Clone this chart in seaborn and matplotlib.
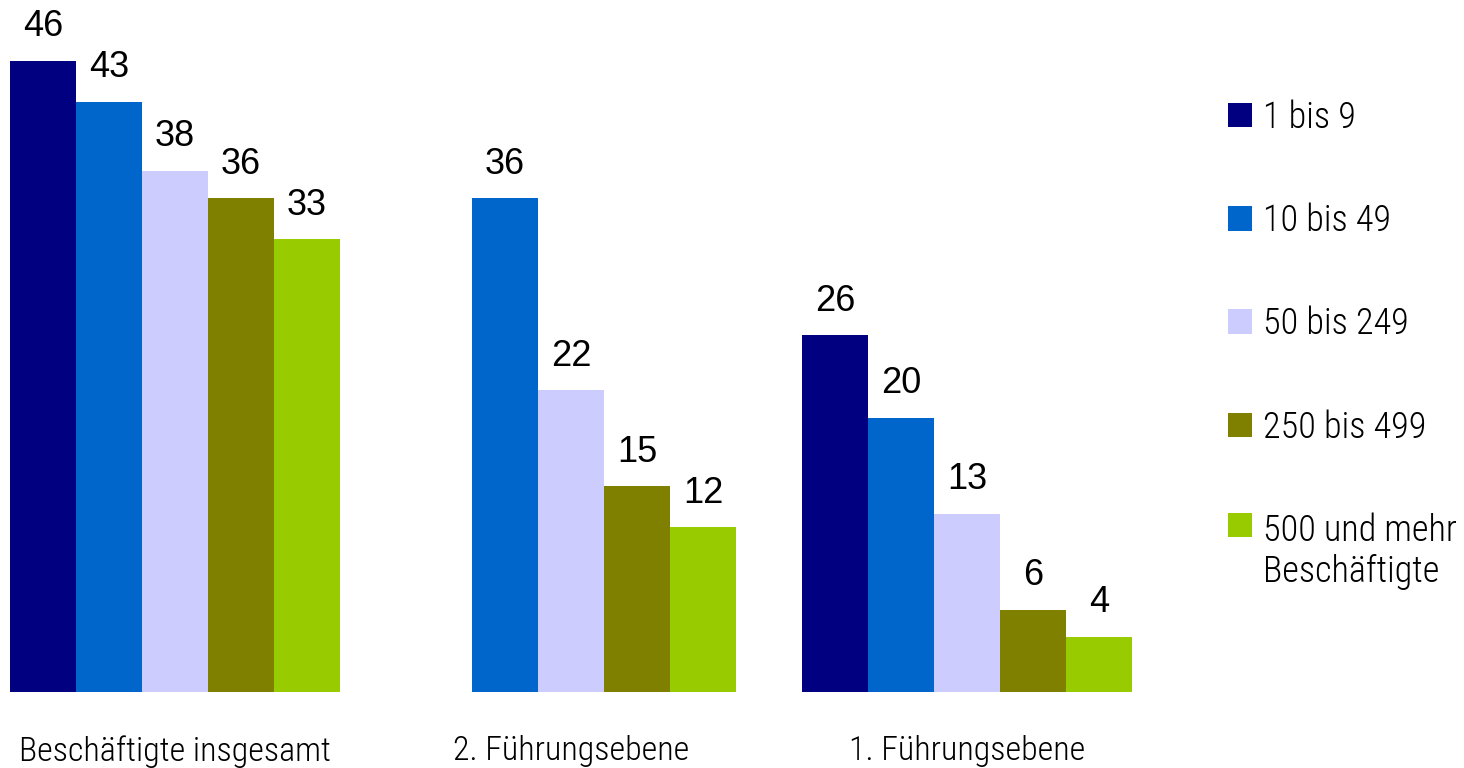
import numpy as np
import pandas as pd
import matplotlib
matplotlib.use("Agg")
import matplotlib.pyplot as plt
from matplotlib import font_manager as fm
import seaborn as sns

categories = ["Beschäftigte insgesamt", "2. Führungsebene", "1. Führungsebene"]
groups = ["1 bis 9", "10 bis 49", "50 bis 249", "250 bis 499", "500 und mehr\nBeschäftigte"]
v_1_9 = [46, np.nan, 26]
v_10_49 = [43, 36, 20]
v_50_249 = [38, 22, 13]
v_250_499 = [36, 15, 6]
v_500 = [33, 12, 4]
colors = ["#000080", "#0066CC", "#CCCCFF", "#808000", "#99CC00"]

series = [v_1_9, v_10_49, v_50_249, v_250_499, v_500]
rows = []
for g, vals in zip(groups, series):
    for c, v in zip(categories, vals):
        rows.append({"Kategorie": c, "Größe": g, "Wert": v})
df = pd.DataFrame(rows).dropna()

# pick a narrow font if one is installed
names = {f.name for f in fm.fontManager.ttflist}
narrow_family = None
narrow_stretch = "normal"
for cand in ["Liberation Sans Narrow", "Arial Narrow", "Roboto Condensed", "Open Sans Condensed"]:
    if cand in names:
        narrow_family = cand
        break
if narrow_family is None:
    for f in fm.fontManager.ttflist:
        if f.name == "DejaVu Sans" and "Condensed" in f.fname:
            narrow_family = "DejaVu Sans"
            narrow_stretch = "condensed"
            break
if narrow_family is None:
    narrow_family = "Liberation Sans"

sns.set_theme(style="white")
plt.rcParams["font.family"] = [narrow_family, "Liberation Sans", "DejaVu Sans"]
plt.rcParams["font.stretch"] = narrow_stretch
plt.rcParams["font.weight"] = "light"
plt.rcParams["text.color"] = "black"

fig = plt.figure(figsize=(14.64, 7.68), dpi=100)
W, H = 1464, 768
ax = fig.add_axes([10 / W, 76 / H, (1132 - 10) / W, (707 - 76) / H])

sns.barplot(data=df, x="Kategorie", y="Wert", hue="Größe", order=categories,
            hue_order=groups, palette=colors, width=0.8333, gap=0,
            saturation=1, errorbar=None, ax=ax, legend=True, linewidth=0)

ax.set_xlim(-0.41667, 2.41667)
ax.set_ylim(0, 46)
for s in ax.spines.values():
    s.set_visible(False)
ax.set_yticks([])
ax.set_xlabel("")
ax.set_ylabel("")
ax.tick_params(axis="x", length=0, pad=31, labelsize=24.5, labelcolor="black")

for cont in ax.containers:
    ax.bar_label(cont, fmt="%.0f", padding=12, fontsize=26,
                 family=["Liberation Sans", "DejaVu Sans"], stretch="normal",
                 weight="normal", color="black", clip_on=False)

handles, labels = ax.get_legend_handles_labels()
leg = ax.legend(handles, labels, loc="upper left", bbox_to_anchor=(1228 / W, 1 - 100 / H),
                bbox_transform=fig.transFigure, frameon=False, fontsize=26,
                handlelength=0.66, handleheight=0.66, handletextpad=0.3,
                labelspacing=1.86, borderpad=0, borderaxespad=0, labelcolor="black")
# align the last (two-line) entry's marker with its first line
try:
    col = leg._legend_handle_box.get_children()[0]
    col.get_children()[-1].align = "top"
except Exception:
    pass

fig.savefig("out.png", dpi=100)
